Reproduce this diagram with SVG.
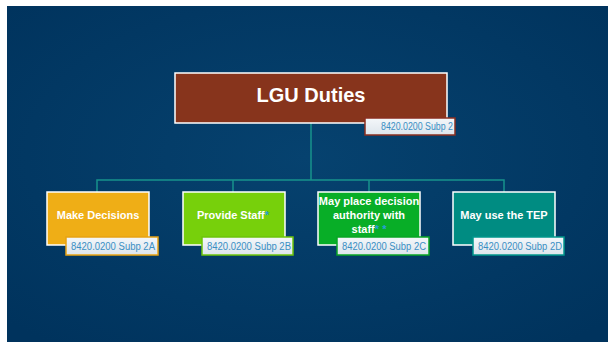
<svg xmlns="http://www.w3.org/2000/svg" width="608" height="342" viewBox="0 0 608 342">
<defs>
<radialGradient id="bg" cx="50%" cy="45%" r="70%">
<stop offset="0" stop-color="#06426f"/>
<stop offset="1" stop-color="#00335d"/>
</radialGradient>
<linearGradient id="lbl" x1="0" y1="0" x2="0" y2="1">
<stop offset="0" stop-color="#f4f7fa"/>
<stop offset="1" stop-color="#dde5ec"/>
</linearGradient>
<style>
.box{stroke:#ffffff;stroke-width:1.5}
.lab{fill:url(#lbl);stroke-width:1.5}
.t{font-family:"Liberation Sans",Arial,sans-serif;font-weight:bold;fill:#ffffff;text-anchor:middle}
.lt{font-family:"Liberation Sans",Arial,sans-serif;font-size:10px;fill:#3a8fc4;text-anchor:end}
.ast{fill:#2a9fd8}
.conn{stroke:#17928c;stroke-width:1.5;fill:none}
</style>
</defs>
<rect x="7" y="6" width="601" height="336" fill="url(#bg)"/>
<g id="connectors">
<path class="conn" d="M311 123 V180 M97 192 V180 H504 V192 M233 180 V192 M369 180 V192"/>
</g>
<g id="lgu-duties">
<rect class="box" x="175" y="73" width="272" height="50" fill="#87341c"/>
<text class="t" x="311" y="102" font-size="20">LGU Duties</text>
<rect class="lab" x="365" y="118" width="90" height="17" stroke="#8a2f20"/>
<text class="lt" x="453" y="130" font-size="9.5" textLength="72" lengthAdjust="spacingAndGlyphs">8420.0200 Subp 2</text>
</g>
<g id="make-decisions">
<rect class="box" x="47" y="192" width="102" height="53" fill="#efae16"/>
<text class="t" x="98" y="219" font-size="11">Make Decisions</text>
<rect class="lab" x="66" y="237" width="92" height="18" stroke="#e8a313"/>
<text class="lt" x="155" y="250" textLength="84" lengthAdjust="spacingAndGlyphs">8420.0200 Subp 2A</text>
</g>
<g id="provide-staff">
<rect class="box" x="183" y="192" width="102" height="53" fill="#77d00b"/>
<text class="t" x="233" y="219" font-size="11">Provide Staff<tspan class="ast">*</tspan></text>
<rect class="lab" x="202" y="237" width="91" height="18" stroke="#6cc40a"/>
<text class="lt" x="291" y="250" textLength="84" lengthAdjust="spacingAndGlyphs">8420.0200 Subp 2B</text>
</g>
<g id="may-place">
<rect class="box" x="318" y="192" width="102" height="53" fill="#08ae27"/>
<text class="t" x="369" y="205" font-size="11">May place decision</text>
<text class="t" x="369" y="219" font-size="11">authority with</text>
<text class="t" x="369" y="233" font-size="11">staff<tspan class="ast">* *</tspan></text>
<rect class="lab" x="337" y="237" width="92" height="18" stroke="#08a524"/>
<text class="lt" x="426" y="250" textLength="84" lengthAdjust="spacingAndGlyphs">8420.0200 Subp 2C</text>
</g>
<g id="may-use-tep">
<rect class="box" x="453" y="192" width="102" height="53" fill="#008c82"/>
<text class="t" x="504" y="219" font-size="11">May use the TEP</text>
<rect class="lab" x="473" y="237" width="91" height="18" stroke="#00968c"/>
<text class="lt" x="562" y="250" textLength="84" lengthAdjust="spacingAndGlyphs">8420.0200 Subp 2D</text>
</g>
</svg>
